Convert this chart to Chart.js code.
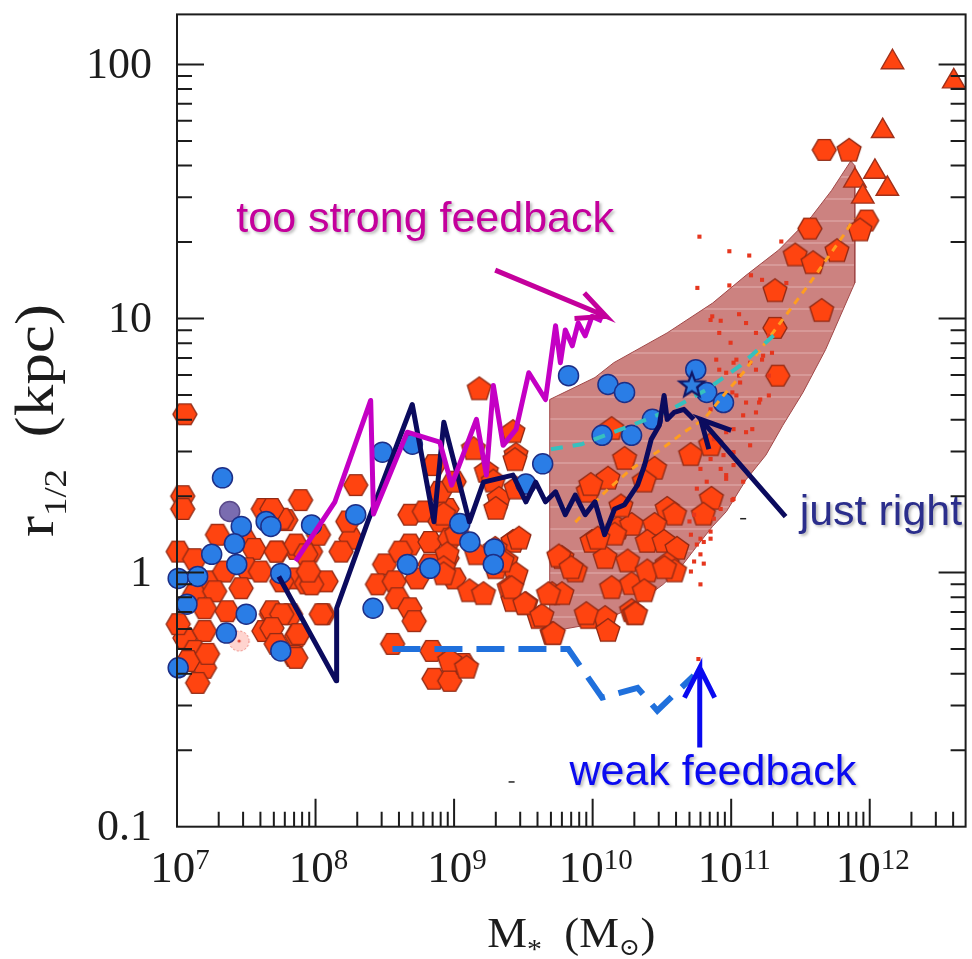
<!DOCTYPE html>
<html>
<head>
<meta charset="utf-8">
<script src="https://cdn.jsdelivr.net/npm/chart.js"></script>
<style>
  html, body { margin: 0; padding: 0; background: #fff; overflow: hidden; }
  canvas { display: block; }
</style>
</head>
<body>
<canvas id="sizeMass" width="980" height="959"></canvas>
<script>
// stellar mass (Msun) vs half-light radius r_1/2 (kpc), log-log

const X_MIN = 1e7, X_MAX = 4.92e12;
const Y_MIN = 0.1, Y_MAX = 157.4;
const X_TICKS = [1e7, 1e8, 1e9, 1e10, 1e11, 1e12];
const X_EXPONENTS = ['7', '8', '9', '10', '11', '12'];
const Y_TICKS = [0.1, 1, 10, 100];
const Y_TICK_LABELS = ['0.1', '1', '10', '100'];

// observed galaxies, [M*, r1/2]
const hexGalaxies = [
  [1.14e7,4.2],[1.1e7,2.0],[1.1e7,1.78],[7.8e7,1.93],[4.2e7,1.78],[6.1e7,1.61],[1.02e7,1.21],[1.34e7,1.13],
  [1.96e7,1.41],[3.05e7,1.36],[3.6e7,1.24],[5.25e7,1.21],[7.2e7,1.24],[9.2e7,1.21],[1.66e7,0.924],[2.2e7,1.01],
  [3.2e7,1.04],[4.0e7,1.01],[6.95e7,0.949],[8.6e7,0.907],[1.19e8,0.924],[1.34e7,0.822],[1.87e7,0.844],[2.9e7,0.868],
  [1.58e7,0.724],[2.3e7,0.705],[4.8e7,0.686],[6.6e7,0.686],[1.14e8,0.686],[1.14e7,0.553],[1.58e7,0.589],[1.34e7,0.492],
  [4.24e7,0.589],[7.3e7,0.563],[1.58e7,0.422],[1.2e7,0.449],[1.41e7,0.368],[6.95e7,0.47],[1.02e7,0.627],[1.66e7,0.479],
  [1.95e8,2.21],[1.05e8,1.41],[1.8e8,1.36],[1.71e8,1.59],[1.53e8,1.21],[5.7e7,1.63],[4.84e7,1.78],[7.2e7,1.29],
  [5.2e7,1.21],[8.5e7,1.18],[9.36e7,0.899],[8.89e7,1.01],[5.7e7,0.924],[1.1e8,0.686],[4.84e7,0.705],[5.7e7,0.686],
  [7.5e7,0.573],[4.84e7,0.605],[7.2e7,0.462],[5.2e7,0.524],
  [4.8e8,1.69],[6.1e8,1.74],[8.9e8,1.78],[7.9e8,1.59],[4.8e8,1.29],[6.7e8,1.32],[9.3e8,1.36],[3.15e8,1.077],
  [4.1e8,1.21],[2.8e8,0.899],[3.7e8,0.924],[5.4e8,0.949],[8.9e8,1.14],[1.0e9,0.949],[3.9e8,0.793],[4.8e8,0.724],
  [5.15e8,0.644],[7.15e8,2.65],[7.9e8,2.08],[1.0e9,2.28],[6.7e8,1.077],[3.6e8,0.524],[6.9e8,0.492],[7.15e8,0.382],
  [9.3e8,0.375],[1.17e9,0.437],
  [4.7e11,46.1],[3.7e11,22.6],[9.5e11,24.3],[2.07e11,9.19],[2.17e11,5.96]
];

const pentGalaxies = [
  [1.52e9,5.26],[2.66e9,3.57],[1.38e9,3.06],[2.8e9,2.9],[1.71e9,2.49],[1.92e9,2.28],[2.11e9,1.95],[2.0e9,1.78],
  [2.8e9,2.14],[8.4e8,1.69],[1.04e9,1.41],[8.9e8,1.18],[8.4e8,1.04],[1.45e9,1.18],[2.66e9,1.32],[2.94e9,1.36],
  [2.37e9,1.106],[2.8e9,0.984],[2.0e9,1.04],[1.29e9,0.844],[1.63e9,0.822],[2.5e9,0.868],[2.66e9,0.772],[3.3e9,0.751],
  [5.1e9,0.822],[6.0e9,0.822],[4.1e9,0.662],[5.1e9,0.573],[8.4e8,0.984],[9.3e8,0.449],[1.23e9,0.422],
  [1.37e10,3.67],[1.7e10,2.8],[1.29e10,2.34],[9.3e9,2.08],[9.9e9,1.32],[1.52e10,1.49],[1.91e10,1.54],[6.0e9,1.14],
  [7.5e9,1.01],[1.23e10,1.14],[1.79e10,1.106],[1.37e10,0.868],[1.91e10,0.899],[9.3e9,0.662],[1.23e10,0.662],
  [1.29e10,0.589],[1.91e10,0.705],
  [5.1e10,2.9],[2.8e10,2.56],[2.36e10,2.28],[7.1e10,3.17],[7.2e10,1.95],[6.3e10,1.69],[3.45e10,1.78],[3.9e10,1.69],
  [1.44e10,1.41],[1.09e10,1.36],[2.8e10,1.54],[2.48e10,1.32],[3.28e10,1.32],[4.06e10,1.24],[2.48e10,1.01],
  [3.45e10,1.077],[3.9e10,1.01],[2.36e10,0.844],[2.0e10,0.686],
  [7.1e11,45.7],[8.5e11,22.2],[2.9e11,17.7],[3.9e11,16.5],[5.8e11,18.4],[2.07e11,12.8],[4.5e11,10.7],
  [2.75e9,2.77],[1.98e9,1.24],[2.22e9,1.106],[5.7e9,1.157],[7.0e9,1.04],[2.6e9,0.868],[3.24e9,0.751],[4.3e9,0.674],
  [5.2e9,0.573],[9.0e9,0.686],[2.04e10,0.686],[3.3e10,1.04],[4.8e9,0.822],[9.7e9,2.21],[1.6e10,1.82]
];

const sdssPoints = [
  [5.9e10,21.0],[9.7e10,18.4],[1.35e11,17.7],[5.7e10,13.2],[9.7e10,13.5],[1.39e11,14.8],[1.67e11,14.2],[2.3e11,20.1],
  [2.5e11,13.8],[7.3e10,10.2],[1.14e11,10.4],[8.2e10,8.78],[1.28e11,9.6],[1.51e11,8.78],[1.87e11,8.55],[1.97e11,7.33],
  [1.67e11,6.89],[1.51e11,6.29],[1.87e11,5.96],[1.14e11,5.96],[8.2e10,6.29],[1.02e11,5.12],[1.28e11,4.67],[1.59e11,4.67],
  [1.87e11,4.98],[1.51e11,4.27],[1.42e11,3.67],[7.8e10,6.89],[1.04e11,6.7],[9.2e10,6.12],[1.16e11,5.6],[1.09e11,4.98],
  [1.62e11,4.8],[1.22e11,4.16],[1.04e11,3.67],[1.28e11,3.57],[1.37e11,3.17],[1.04e11,2.65],[9.2e10,2.42],[1.22e11,2.28],
  [1.04e11,1.95],[8.4e10,1.78],[7.1e10,1.45],[6.34e10,1.32],[7.1e10,9.87],[8.4e10,9.8],[9.9e10,8.03],[1.09e11,6.89],
  [1.37e11,6.7],[1.7e11,7.14],[7.1e10,4.39],[7.5e10,3.35],[9.2e10,3.57],[1.04e11,2.98],[8.8e10,2.9],[7.1e10,2.8],
  [6.0e10,2.56],[8.4e10,2.56],[6.66e10,2.28],[5.65e10,2.14],[9.2e10,2.34],[5.4e10,1.69],[7.5e10,1.63],[5.12e10,1.41],
  [6.0e10,1.36],[7.1e10,1.36],[5.65e10,1.29],[6.0e10,1.18],[5.4e10,1.106],[6.34e10,1.085],[5.12e10,1.01],[6.0e10,0.899],
  [5.8e10,0.457],[1.02e11,1.93],[5.0e10,1.59]
];

const brightestCluster = [
  [1.46e12,102],[4.04e12,85.8],[1.24e12,54.7],[1.09e12,37.8],[1.34e12,32.4],[7.82e11,34.9],[8.91e11,30.2]
];

// simulated galaxies
const simGalaxies = [
  [2.13e7,2.36],[2.91e7,1.52],[4.4e7,1.59],[4.76e7,1.52],[9.36e7,1.54],[2.6e7,1.30],[1.78e7,1.18],[2.7e7,1.077],
  [1.02e7,0.949],[1.41e7,0.966],[5.61e7,0.993],[1.18e7,0.751],[3.16e7,0.686],[2.27e7,0.578],[5.61e7,0.492],[1.02e7,0.422],
  [3.04e8,2.98],[5.0e8,3.2],[1.95e8,1.69],[4.6e8,1.077],[6.7e8,1.04],[1.10e9,1.56],[1.3e9,1.32],[2.6e8,0.724],
  [6.7e9,5.96],[1.29e10,5.5],[1.7e10,5.12],[4.36e9,2.68],[3.3e9,2.23],[1.95e9,1.24],[1.92e9,1.077],[1.17e10,3.47],
  [1.91e10,3.47],[5.55e10,6.29],[2.7e10,4.01],[6.66e10,5.12],[8.8e10,4.67]
];
const simGalaxiesFaded = [[2.4e7,1.74]];
const milkyWayAnalog = [[5.2e10,5.45]];
const sunLike = [[2.81e7,0.538]];
const strayDashes = [[1.22e11,1.63],[2.6e9,0.15]];

// model tracks
const tooStrong = [
  [7.18e7,1.11],[1.38e8,1.90],[2.50e8,4.76],[2.62e8,1.70],[4.59e8,3.57],[7.89e8,3.26],[9.6e8,2.21],[1.45e9,4.01],
  [1.71e9,2.42],[1.92e9,5.45],[2.26e9,3.17],[2.80e9,3.66],[3.46e9,6.12],[4.57e9,4.80],[5.40e9,9.36],[5.85e9,6.70],
  [6.35e9,9.02],[7.13e9,7.81],[7.87e9,9.61],[8.83e9,8.55],[9.9e9,10.2],[1.17e10,9.79]
];
const justRight = [
  [5.43e7,0.966],[1.41e8,0.375],[1.42e8,0.724],[2.38e8,1.585],[4.99e8,4.59],[7.16e8,1.585],[8.43e8,3.91],[1.29e9,1.585],
  [1.63e9,2.27],[2.66e9,2.42],[3.30e9,1.90],[3.88e9,2.27],[4.57e9,1.90],[5.40e9,2.08],[6.35e9,1.69],[7.49e9,2.02],
  [8.83e9,1.69],[1.04e10,1.90],[1.22e10,1.41],[1.44e10,1.78],[1.70e10,1.85],[2.11e10,2.21],[2.37e10,2.65],[2.65e10,3.35],
  [3.03e10,3.80],[3.28e10,4.98],[3.45e10,4.01],[3.87e10,4.27],[4.56e10,4.39],[5.37e10,4.01]
];
const weakFeedback = [[3.59e8,0.50],[6.68e9,0.50],[1.17e10,0.322],[2.11e10,0.352],[2.93e10,0.286],[5.37e10,0.393]];
const cyanFit = [[5.0e9,3.06],[8.3e9,3.2],[1.91e10,3.8],[3.7e10,4.39],[6.66e10,5.26],[1.16e11,6.52],[2.2e11,8.94]];
const orangeFit = [
  [7.5e9,1.58],[1.29e10,2.13],[1.91e10,2.56],[3.13e10,3.06],[4.56e10,3.57],[6.34e10,4.01],[8.8e10,4.98],
  [1.22e11,6.12],[1.62e11,7.54],[3.7e11,13.8],[6.6e11,21.6],[7.7e11,24.8]
];
// observed relation envelope, traced clockwise
const envelope = [
  [4.9e9,4.8],[1.04e10,5.86],[1.42e10,6.7],[3.45e10,8.78],[7.34e10,11.5],[1.28e11,14.8],[2.2e11,18.6],[3.8e11,25.2],
  [5.3e11,31.9],[7.3e11,41.7],[7.8e11,40],[7.8e11,13.8],[4.8e11,7.54],[3.3e11,5.12],[2.36e11,3.8],[1.78e11,2.9],
  [1.28e11,2.32],[9.24e10,1.74],[7.34e10,1.52],[5.65e10,1.27],[4.27e10,1.04],[3.23e10,0.899],[1.88e10,0.724],
  [1.09e10,0.633],[6.25e9,0.6],[4.9e9,0.589],[4.9e9,4.8]
];

// arrows: tail, head, barb, head, barb
const arrowStrong = [[1.98e9,15.5],[1.25e10,10.2],[8.7e9,12.6],[1.25e10,10.2],[7.4e9,10.0]];
const arrowRight = [[2.47e11,1.66],[6.03e10,4.01],[1.0e11,3.63],[6.03e10,4.01],[6.9e10,3.06]];
const arrowWeak = [[5.93e10,0.205],[5.93e10,0.422],[4.6e10,0.322],[5.93e10,0.422],[7.6e10,0.322]];

const NOTES = [
  { text: 'too strong feedback', at: [2.68e7, 22.0], color: '#C4009C' },
  { text: 'just right', at: [3.12e11, 1.54], color: '#2B2E8C' },
  { text: 'weak feedback', at: [6.8e9, 0.146], color: '#0A0AF0' }
];

const SERIF = '"Liberation Serif", "DejaVu Serif", serif';
const SANS = '"Liberation Sans", Arial, sans-serif';

const pts = arr => arr.map(([x, y]) => ({ x, y }));

function marker(size, paint) {
  const c = document.createElement('canvas');
  c.width = c.height = size;
  const g = c.getContext('2d');
  g.translate(size / 2, size / 2);
  paint(g);
  return c;
}
function polyPath(g, n, r, rot) {
  g.beginPath();
  for (let i = 0; i < n; i++) {
    const t = rot + i * 2 * Math.PI / n;
    g.lineTo(r * Math.cos(t), r * Math.sin(t));
  }
  g.closePath();
}
const hexIcon = marker(30, g => {
  polyPath(g, 6, 12, 0);
  g.fillStyle = '#FF4410'; g.fill();
  g.lineWidth = 1.4; g.strokeStyle = '#922A14'; g.stroke();
});
const pentIcon = marker(30, g => {
  polyPath(g, 5, 12.5, -Math.PI / 2);
  g.fillStyle = '#FF4410'; g.fill();
  g.lineWidth = 1.4; g.strokeStyle = '#922A14'; g.stroke();
});
const starIcon = marker(34, g => {
  g.beginPath();
  for (let i = 0; i < 10; i++) {
    const r = i % 2 ? 5.5 : 13;
    const t = -Math.PI / 2 + i * Math.PI / 5;
    g.lineTo(r * Math.cos(t), r * Math.sin(t));
  }
  g.closePath();
  g.fillStyle = '#2F7FE0'; g.fill();
  g.lineWidth = 2.2; g.strokeStyle = '#101766'; g.stroke();
});
const sunIcon = marker(26, g => {
  g.beginPath(); g.arc(0, 0, 10, 0, 2 * Math.PI);
  g.fillStyle = 'rgba(255,170,160,0.5)'; g.fill();
  g.setLineDash([2, 2]); g.lineWidth = 1; g.strokeStyle = 'rgba(230,100,90,0.8)'; g.stroke();
  g.setLineDash([]);
  g.beginPath(); g.arc(0, 0, 1.6, 0, 2 * Math.PI); g.fillStyle = '#E04A3A'; g.fill();
});

// envelope fill: muted rose with faint pale banding
function bandPattern() {
  const c = document.createElement('canvas');
  c.width = 8; c.height = 22;
  const g = c.getContext('2d');
  g.fillStyle = '#CC8280';
  g.fillRect(0, 0, 8, 22);
  g.fillStyle = 'rgba(255,235,235,0.22)';
  g.fillRect(0, 0, 8, 2);
  return g.createPattern(c, 'repeat');
}

const scatterSet = (data, extra) => Object.assign({
  data: pts(data), showLine: false, clip: false
}, extra);
const lineSet = (data, extra) => Object.assign({
  data: pts(data), showLine: true, pointRadius: 0, fill: false, tension: 0, clip: false
}, extra);

function richText(ctx, parts, cx, baseline, targetLen) {
  let total = 0;
  parts.forEach(p => {
    ctx.font = p.size + 'px ' + SERIF;
    p.w = ctx.measureText(p.t).width;
    total += p.w;
  });
  const k = targetLen ? targetLen / total : 1;
  ctx.save();
  ctx.translate(cx, baseline);
  ctx.scale(k, 1);
  let x = -total / 2;
  ctx.textAlign = 'left';
  ctx.textBaseline = 'alphabetic';
  parts.forEach(p => {
    ctx.font = p.size + 'px ' + SERIF;
    ctx.fillText(p.t, x, p.dy || 0);
    x += p.w;
  });
  ctx.restore();
}

const frameAndLabels = {
  id: 'frameAndLabels',
  afterDraw(chart) {
    const { ctx, chartArea: a } = chart;
    const sx = chart.scales.x, sy = chart.scales.y;
    ctx.save();
    ctx.strokeStyle = '#1c1c1c';
    ctx.lineWidth = 2;
    ctx.strokeRect(a.left, a.top, a.right - a.left, a.bottom - a.top);

    ctx.beginPath();
    for (let d = 7; d <= 12; d++) {
      for (let k = 1; k <= 9; k++) {
        const v = k * Math.pow(10, d);
        if (v <= sx.min * 1.001 || v >= sx.max) continue;
        const px = sx.getPixelForValue(v);
        ctx.moveTo(px, a.bottom);
        ctx.lineTo(px, a.bottom - (k === 1 ? 28 : 15));
      }
    }
    for (let d = -1; d <= 2; d++) {
      for (let k = 1; k <= 9; k++) {
        const v = k * Math.pow(10, d);
        if (v <= sy.min * 1.001 || v >= sy.max) continue;
        const py = sy.getPixelForValue(v);
        const len = k === 1 ? 27 : 15;
        ctx.moveTo(a.left, py); ctx.lineTo(a.left + len, py);
        ctx.moveTo(a.right, py); ctx.lineTo(a.right - len, py);
      }
    }
    ctx.stroke();

    // tick labels
    ctx.fillStyle = '#1c1c1c';
    ctx.font = '44px ' + SERIF;
    ctx.textAlign = 'right';
    ctx.textBaseline = 'middle';
    Y_TICKS.forEach((v, i) => ctx.fillText(Y_TICK_LABELS[i], a.left - 25, sy.getPixelForValue(v) + 2));

    X_TICKS.forEach((v, i) => {
      const px = sx.getPixelForValue(v) + 3;
      richText(ctx, [
        { t: '10', size: 45 },
        { t: X_EXPONENTS[i], size: 29, dy: -13 }
      ], px, a.bottom + 55);
    });

    // axis titles
    richText(ctx, [
      { t: 'M', size: 42 },
      { t: '*', size: 28, dy: 11 },
      { t: '  (M', size: 42 },
      { t: '\u2299', size: 24, dy: 8 },
      { t: ')', size: 42 }
    ], (a.left + a.right) / 2, 947, 168);

    ctx.save();
    ctx.translate(53, (a.top + a.bottom) / 2);
    ctx.rotate(-Math.PI / 2);
    richText(ctx, [
      { t: 'r', size: 55 },
      { t: '1/2', size: 32, dy: 13 },
      { t: '  (kpc)', size: 55 }
    ], 0, 0, 233);
    ctx.restore();

    // annotations
    ctx.font = '43px ' + SANS;
    ctx.textAlign = 'left';
    ctx.textBaseline = 'alphabetic';
    ctx.shadowColor = 'rgba(60,60,60,0.35)';
    ctx.shadowBlur = 3;
    ctx.shadowOffsetX = 2;
    ctx.shadowOffsetY = 2;
    NOTES.forEach(n => {
      ctx.fillStyle = n.color;
      ctx.fillText(n.text, sx.getPixelForValue(n.at[0]), sy.getPixelForValue(n.at[1]));
    });
    ctx.restore();
  }
};

new Chart(document.getElementById('sizeMass'), {
  type: 'scatter',
  data: {
    datasets: [
      lineSet(envelope, { order: 30, fill: 'shape', backgroundColor: bandPattern(), borderColor: '#A04848', borderWidth: 1 }),
      scatterSet(hexGalaxies, { order: 25, pointStyle: hexIcon, pointRadius: 12 }),
      scatterSet(pentGalaxies, { order: 24, pointStyle: pentIcon, pointRadius: 12 }),
      scatterSet(sdssPoints, { order: 23, pointStyle: 'rect', pointRadius: 2.9, pointBackgroundColor: '#E5361E', pointBorderWidth: 0 }),
      scatterSet(simGalaxiesFaded, { order: 22, pointRadius: 10, pointBackgroundColor: '#7A6CB0', pointBorderColor: '#5A4A8A', pointBorderWidth: 1.5 }),
      scatterSet(simGalaxies, { order: 21, pointRadius: 10, pointBackgroundColor: '#2A7DE6', pointBorderColor: '#1D2F87', pointBorderWidth: 1.5 }),
      scatterSet(sunLike, { order: 21, pointStyle: sunIcon, pointRadius: 10 }),
      lineSet(orangeFit, { order: 18, borderColor: '#FF9E1F', borderWidth: 3, borderDash: [7, 6] }),
      lineSet(cyanFit, { order: 17, borderColor: '#36C0BE', borderWidth: 4, borderDash: [12, 10] }),
      lineSet(justRight, { order: 15, borderColor: '#0B0B5E', borderWidth: 5, borderJoinStyle: 'round' }),
      lineSet(tooStrong, { order: 14, borderColor: '#C400C4', borderWidth: 5, borderJoinStyle: 'round' }),
      lineSet(weakFeedback, { order: 13, borderColor: '#2070DC', borderWidth: 6, borderDash: [28, 14] }),
      scatterSet(milkyWayAnalog, { order: 12, pointStyle: starIcon, pointRadius: 13 }),
      scatterSet(brightestCluster, { order: 11, pointStyle: 'triangle', pointRadius: 13, pointBackgroundColor: '#FF4410', pointBorderColor: '#A0301A', pointBorderWidth: 1.4 }),
      lineSet(arrowStrong, { order: 5, borderColor: '#C4009C', borderWidth: 5 }),
      lineSet(arrowRight, { order: 5, borderColor: '#0B0B5E', borderWidth: 5 }),
      lineSet(arrowWeak, { order: 5, borderColor: '#0A0AF0', borderWidth: 5 }),
      scatterSet(strayDashes, { order: 5, pointStyle: 'line', pointRadius: 3, pointBorderColor: '#222', pointBorderWidth: 1.5 })
    ]
  },
  options: {
    responsive: false,
    animation: false,
    devicePixelRatio: 1,
    events: [],
    layout: { padding: { left: 177, right: 5, top: 9.5, bottom: 132.3 } },
    plugins: { legend: { display: false }, tooltip: { enabled: false } },
    scales: {
      x: { type: 'logarithmic', min: X_MIN, max: X_MAX, bounds: 'data', display: false },
      y: { type: 'logarithmic', min: Y_MIN, max: Y_MAX, bounds: 'data', display: false }
    }
  },
  plugins: [frameAndLabels]
});
</script>
</body>
</html>
